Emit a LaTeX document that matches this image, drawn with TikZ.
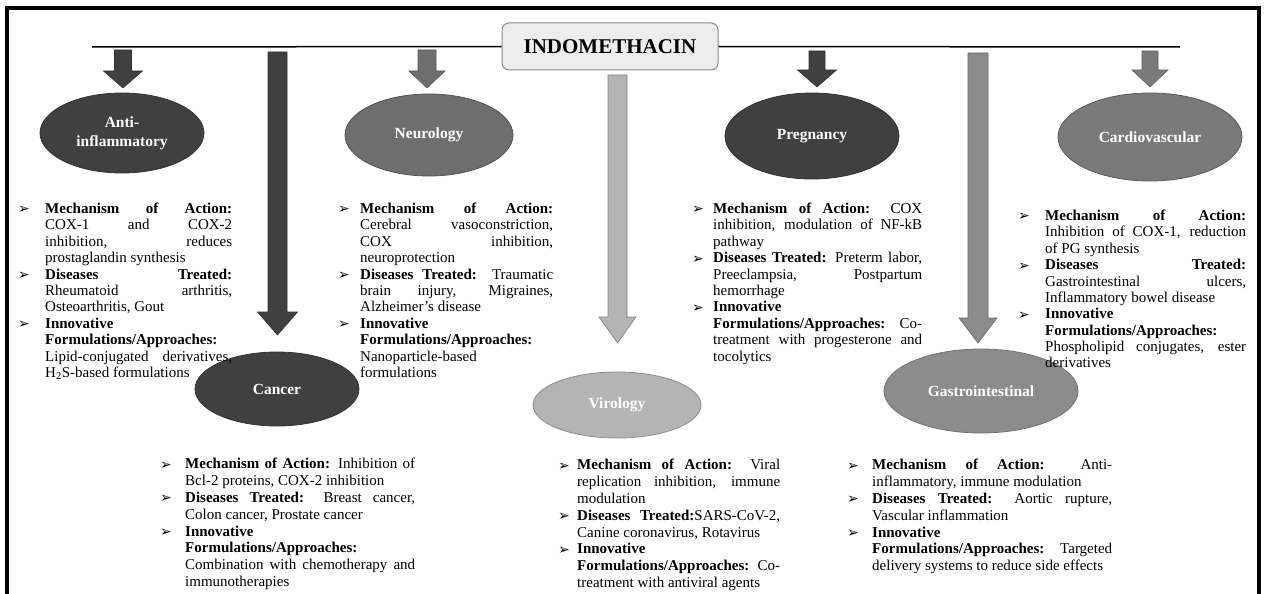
\documentclass[tikz,border=0pt]{standalone}
\usepackage{fontspec}
\setmainfont{Liberation Serif}
\newfontfamily\dejavu{DejaVu Sans}
\usetikzlibrary{shapes.geometric}
\definecolor{cdark}{HTML}{404040}
\definecolor{cneuro}{HTML}{6E6E6E}
\definecolor{ccardio}{HTML}{7A7A7A}
\definecolor{cgastro}{HTML}{8C8C8C}
\definecolor{cviro}{HTML}{B4B4B4}
\definecolor{ctitle}{HTML}{EDEDED}
\newcommand\bulletglyph{{\dejavu\fontsize{14}{14}\selectfont\raisebox{-0.5pt}{➢}}}
\newcommand\itm[2][22pt]{\par\noindent\hangindent=#1\hangafter=1\makebox[#1][l]{\bulletglyph}#2\par}
\newcommand\jb{\linebreak}
\newcommand\barrow[7]{%
  \draw[#7] ({#1-#5},#2) -- ({#1+#5},#2) -- ({#1+#5},#3) -- ({#1+#6},#3) -- (#1,#4) -- ({#1-#6},#3) -- ({#1-#5},#3) -- cycle;}
\begin{document}
\begin{tikzpicture}[x=1pt,y=-1pt,
  blk/.style={anchor=base west, inner sep=0pt, align=justify,
    execute at begin node={\tolerance=10000\hbadness=10000\hyphenpenalty=10000\exhyphenpenalty=10000}},
  upblk/.style={blk, font=\fontsize{15}{16.4}\selectfont},
  lowblk/.style={blk, font=\fontsize{15}{16.8}\selectfont},
  cat/.style={ellipse, inner sep=0pt, text=white, align=center, line width=0.8pt,
    font=\bfseries\fontsize{15.5}{19}\selectfont},
  arr/.style={line width=0.6pt},
  hline/.style={line width=1.5pt}
]
\useasboundingbox (0,0) rectangle (1267,594);
\fill[white] (0,0) rectangle (1267,594);
% frame
\draw[line width=4pt] (7,594) -- (7,8) -- (1259,8) -- (1259,594);
% title and line
\coordinate (lineL) at (92,47);
\coordinate (lineR) at (1180,47);
\node[draw=black!45, fill=ctitle, rounded corners=7pt, line width=1pt,
      minimum width=216pt, minimum height=47pt, inner sep=0pt,
      font=\bfseries\fontsize{21}{21}\selectfont] (title) at (610,46.5) {INDOMETHACIN};
\draw[hline] (lineL) -- (title.west);
\draw[hline] (title.east) -- (lineR);
% arrows
\barrow{123}{50}{71}{88}{8.5}{19.5}{arr, fill=cdark, draw=cdark!80!black}
\barrow{427}{50}{71}{88}{9}{18}{arr, fill=cneuro, draw=cneuro!80!black}
\barrow{817}{51}{70}{87}{8}{19.5}{arr, fill=cdark, draw=cdark!80!black}
\barrow{1150}{51}{70}{87}{8}{18}{arr, fill=ccardio, draw=ccardio!80!black}
\barrow{277.5}{52}{312}{335}{9.5}{20}{arr, fill=cdark, draw=cdark!80!black}
\barrow{617.5}{75}{317}{343}{9.5}{18.5}{arr, fill=cviro, draw=black!50}
\barrow{978}{53}{318}{343}{10}{19}{arr, fill=cgastro, draw=black!60}
% category ellipses
\node[cat, fill=cdark, draw=cdark!80!black, minimum width=164pt, minimum height=80pt] (anti) at (122,133) {Anti-\\inflammatory};
\node[cat, fill=cneuro, draw=cneuro!75!black, minimum width=168pt, minimum height=82pt] (neuro) at (429,135) {Neurology};
\node[cat, fill=cdark, draw=cdark!80!black, minimum width=174pt, minimum height=86pt] (preg) at (812,136) {Pregnancy};
\node[cat, fill=ccardio, draw=ccardio!75!black, minimum width=184pt, minimum height=88pt] (cardio) at (1150,137) {Cardiovascular};
\node[cat, fill=cdark, draw=cdark!80!black, minimum width=164pt, minimum height=74pt] (cancer) at (277,389) {Cancer};
\node[cat, fill=cviro, draw=black!45, minimum width=168pt, minimum height=66pt] (viro) at (617,405) {Virology};
\node[cat, fill=cgastro, draw=black!55, minimum width=194pt, minimum height=84pt] (gastro) at (981,391) {Gastrointestinal};
% text blocks
\node[upblk, text width=214pt] (antiT) at (18,197) {%
\itm[27pt]{\textbf{Mechanism of Action:}\jb COX-1 and COX-2\jb inhibition, reduces\jb prostaglandin synthesis}
\itm[27pt]{\textbf{Diseases Treated:}\jb Rheumatoid arthritis,\jb Osteoarthritis, Gout}
\itm[27pt]{\textbf{Innovative}\newline\textbf{Formulations/Approaches:}\newline Lipid-conjugated derivatives,\jb H\textsubscript{2}S-based formulations}};
\node[upblk, text width=215pt] (neuroT) at (338,197) {%
\itm[22pt]{\textbf{Mechanism of Action:}\jb Cerebral vasoconstriction,\jb COX inhibition,\jb neuroprotection}
\itm[22pt]{\textbf{Diseases Treated:} Traumatic\jb brain injury, Migraines,\jb Alzheimer’s disease}
\itm[22pt]{\textbf{Innovative}\newline\textbf{Formulations/Approaches:}\newline Nanoparticle-based\newline formulations}};
\node[upblk, text width=230pt] (pregT) at (692,197) {%
\itm[21pt]{\textbf{Mechanism of Action:} COX\jb inhibition, modulation of NF-kB\jb pathway}
\itm[21pt]{\textbf{Diseases Treated:} Preterm labor,\jb Preeclampsia, Postpartum\jb hemorrhage}
\itm[21pt]{\textbf{Innovative}\newline\textbf{Formulations/Approaches:} Co-\jb treatment with progesterone and\jb tocolytics}};
\node[upblk, text width=228pt] (cardioT) at (1018,204) {%
\itm[27pt]{\textbf{Mechanism of Action:}\jb Inhibition of COX-1, reduction\jb of PG synthesis}
\itm[27pt]{\textbf{Diseases Treated:}\jb Gastrointestinal ulcers,\jb Inflammatory bowel disease}
\itm[27pt]{\textbf{Innovative}\newline\textbf{Formulations/Approaches:}\newline Phospholipid conjugates, ester\jb derivatives}};
\node[lowblk, text width=255pt] (cancerT) at (160,452) {%
\itm[25pt]{\textbf{Mechanism of Action:} Inhibition of\jb Bcl-2 proteins, COX-2 inhibition}
\itm[25pt]{\textbf{Diseases Treated:} Breast cancer,\jb Colon cancer, Prostate cancer}
\itm[25pt]{\textbf{Innovative}\newline\textbf{Formulations/Approaches:}\newline Combination with chemotherapy and\jb immunotherapies}};
\node[lowblk, text width=222pt] (viroT) at (558,453) {%
\itm[19pt]{\textbf{Mechanism of Action:} Viral\jb replication inhibition, immune\jb modulation}
\itm[19pt]{\textbf{Diseases Treated:}SARS-CoV-2,\jb Canine coronavirus, Rotavirus}
\itm[19pt]{\textbf{Innovative}\newline\textbf{Formulations/Approaches:} Co-\jb treatment with antiviral agents}};
\node[lowblk, text width=265pt] (gastroT) at (847,453) {%
\itm[25pt]{\textbf{Mechanism of Action:} Anti-\jb inflammatory, immune modulation}
\itm[25pt]{\textbf{Diseases Treated:} Aortic rupture,\jb Vascular inflammation}
\itm[25pt]{\textbf{Innovative}\newline\textbf{Formulations/Approaches:} Targeted\jb delivery systems to reduce side effects}};
\end{tikzpicture}
\end{document}
